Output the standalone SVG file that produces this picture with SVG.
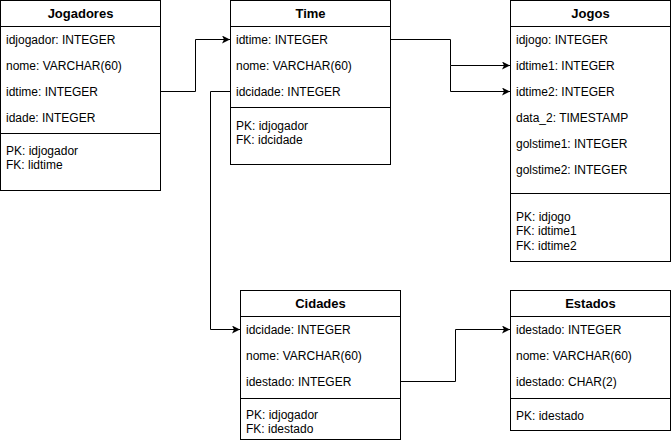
<svg xmlns="http://www.w3.org/2000/svg" width="671" height="444" viewBox="0 0 671 444">
<style>
.box{fill:#fff;stroke:#000;stroke-width:1}
.ln{stroke:#000;stroke-width:1;fill:none}
.t{font-family:"Liberation Sans",Arial,sans-serif;font-size:12px;fill:#000}
.h{font-family:"Liberation Sans",Arial,sans-serif;font-size:13px;font-weight:bold;fill:#000;text-anchor:middle}
.c{stroke:#000;stroke-width:1;fill:none;marker-end:url(#arr)}
</style>
<defs>
<marker id="arr" markerUnits="userSpaceOnUse" markerWidth="10" markerHeight="10" refX="8" refY="4" orient="auto">
<path d="M0,0 L8,4 L0,8 L2,4 z" fill="#000"/>
</marker>
</defs>
<rect width="671" height="444" fill="#fff"/>
<g id="connectors">
<path class="c" d="M160.5,91.5 H195.5 V39.5 H230"/>
<path class="c" d="M390.5,39.5 H450.5 V65.5 H510"/>
<path class="c" d="M450.5,65.5 V91.5 H510"/>
<path class="c" d="M230.5,91.5 H210.5 V329.5 H240"/>
<path class="c" d="M400.5,381.5 H455.5 V329.5 H510"/>
</g>
<g id="jogadores">
<rect class="box" x="0.5" y="0.5" width="160" height="190"/>
<line class="ln" x1="0.5" y1="26.5" x2="160.5" y2="26.5"/>
<line class="ln" x1="0.5" y1="133.5" x2="160.5" y2="133.5"/>
<text class="h" x="80.5" y="18">Jogadores</text>
<text class="t" x="6" y="44">idjogador: INTEGER</text>
<text class="t" x="6" y="70">nome: VARCHAR(60)</text>
<text class="t" x="6" y="96">idtime: INTEGER</text>
<text class="t" x="6" y="122">idade: INTEGER</text>
<text class="t" x="6" y="155">PK: idjogador</text>
<text class="t" x="6" y="169">FK: lidtime</text>
</g>
<g id="time">
<rect class="box" x="230.5" y="0.5" width="160" height="164"/>
<line class="ln" x1="230.5" y1="26.5" x2="390.5" y2="26.5"/>
<line class="ln" x1="230.5" y1="107.5" x2="390.5" y2="107.5"/>
<text class="h" x="310.5" y="18">Time</text>
<text class="t" x="236" y="44">idtime: INTEGER</text>
<text class="t" x="236" y="70">nome: VARCHAR(60)</text>
<text class="t" x="236" y="96">idcidade: INTEGER</text>
<text class="t" x="236" y="130">PK: idjogador</text>
<text class="t" x="236" y="144">FK: idcidade</text>
</g>
<g id="jogos">
<rect class="box" x="510.5" y="0.5" width="160" height="261"/>
<line class="ln" x1="510.5" y1="26.5" x2="670.5" y2="26.5"/>
<line class="ln" x1="510.5" y1="193.5" x2="670.5" y2="193.5"/>
<text class="h" x="590.5" y="18">Jogos</text>
<text class="t" x="516" y="44">idjogo: INTEGER</text>
<text class="t" x="516" y="70">idtime1: INTEGER</text>
<text class="t" x="516" y="96">idtime2: INTEGER</text>
<text class="t" x="516" y="122">data_2: TIMESTAMP</text>
<text class="t" x="516" y="148">golstime1: INTEGER</text>
<text class="t" x="516" y="174">golstime2: INTEGER</text>
<text class="t" x="516" y="221">PK: idjogo</text>
<text class="t" x="516" y="235">FK: idtime1</text>
<text class="t" x="516" y="250">FK: idtime2</text>
</g>
<g id="cidades">
<rect class="box" x="240.5" y="290.5" width="160" height="149"/>
<line class="ln" x1="240.5" y1="316.5" x2="400.5" y2="316.5"/>
<line class="ln" x1="240.5" y1="398.5" x2="400.5" y2="398.5"/>
<text class="h" x="320.5" y="308">Cidades</text>
<text class="t" x="246" y="334">idcidade: INTEGER</text>
<text class="t" x="246" y="360">nome: VARCHAR(60)</text>
<text class="t" x="246" y="386">idestado: INTEGER</text>
<text class="t" x="246" y="419">PK: idjogador</text>
<text class="t" x="246" y="433">FK: idestado</text>
</g>
<g id="estados">
<rect class="box" x="510.5" y="290.5" width="160" height="140"/>
<line class="ln" x1="510.5" y1="316.5" x2="670.5" y2="316.5"/>
<line class="ln" x1="510.5" y1="398.5" x2="670.5" y2="398.5"/>
<text class="h" x="590.5" y="308">Estados</text>
<text class="t" x="516" y="334">idestado: INTEGER</text>
<text class="t" x="516" y="360">nome: VARCHAR(60)</text>
<text class="t" x="516" y="386">idestado: CHAR(2)</text>
<text class="t" x="516" y="420">PK: idestado</text>
</g>
</svg>
